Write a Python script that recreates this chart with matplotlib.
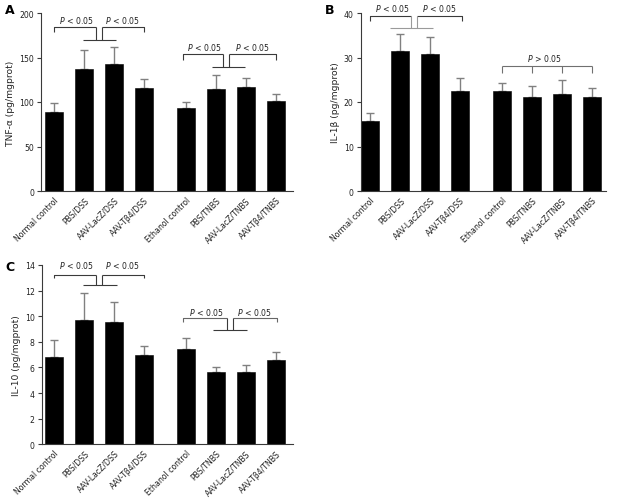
import matplotlib
matplotlib.use("Agg")
import matplotlib.pyplot as plt
import numpy as np

groups = ["Normal control", "PBS/DSS", "AAV-LacZ/DSS", "AAV-Tβ4/DSS",
          "Ethanol control", "PBS/TNBS", "AAV-LacZ/TNBS", "AAV-Tβ4/TNBS"]
positions = [0, 1, 2, 3, 4.4, 5.4, 6.4, 7.4]

tnf_mean = [88.4, 137, 142.3, 116, 92.9, 114.6, 116.9, 101]
tnf_upper = [98.5, 158.8, 161.4, 125.5, 100.4, 130, 126.6, 109.3]
il1b_mean = [15.8, 31.5, 30.7, 22.5, 22.5, 21.2, 21.8, 21.2]
il1b_upper = [17.6, 35.2, 34.5, 25.5, 24.2, 23.6, 24.9, 23.2]
il10_mean = [6.84, 9.73, 9.58, 7.0, 7.44, 5.62, 5.62, 6.61]
il10_upper = [8.12, 11.81, 11.14, 7.68, 8.33, 6.01, 6.22, 7.23]

plt.rcParams['font.family'] = ['DejaVu Sans']
FS = 5.6
DARK = "#3a3a3a"
GRAY = "#9a9a9a"
ERR = "#808080"

fig = plt.figure(figsize=(6.2, 5.02), dpi=100)
fig.patch.set_facecolor("white")

def W(px):
    return px / 620.0

def H(px):
    return px / 502.0

axA = fig.add_axes([W(41), 1 - H(192), W(293 - 41), H(192 - 14)])
axB = fig.add_axes([W(360.5), 1 - H(192), W(606 - 360.5), H(192 - 14)])
axC = fig.add_axes([W(41.7), 1 - H(445.3), W(293 - 41.7), H(445.3 - 266)])


def draw(ax, mean, upper, ymax, yticks, ylabel, xlim):
    pos = np.array(positions)
    err = np.array(upper) - np.array(mean)
    ax.errorbar(pos, mean, yerr=[np.zeros_like(err), err], fmt='none',
                ecolor=ERR, elinewidth=1.0, capsize=3.2, capthick=1.0, zorder=1)
    ax.bar(pos, mean, width=0.6, color="black", edgecolor="black",
           linewidth=0.4, zorder=2)
    ax.set_ylim(0, ymax)
    ax.set_xlim(*xlim)
    ax.set_yticks(yticks)
    ax.set_xticks(pos)
    ax.set_xticklabels(groups, rotation=45, ha='right', rotation_mode='anchor',
                       fontsize=FS, color="#222222")
    ax.tick_params(axis='x', length=0, pad=3)
    ax.tick_params(axis='y', length=3, width=0.8, colors=DARK, labelsize=FS,
                   pad=2, labelcolor="#222222")
    for s in ["top", "right"]:
        ax.spines[s].set_visible(False)
    for s in ["left", "bottom"]:
        ax.spines[s].set_color(DARK)
        ax.spines[s].set_linewidth(0.8)
    ax.set_ylabel(ylabel, fontsize=6.6, color="#222222", labelpad=3)


def pair_bracket(ax, xl, xr, mid_l, mid_r, ytop, ytick, ylow, lowl, lowr,
                 ytext, col_top=DARK, col_low=DARK, text="$P$ < 0.05"):
    kw = dict(lw=0.8, clip_on=False, solid_capstyle='butt')
    ax.plot([xl, xl, mid_l], [ytick, ytop, ytop], color=col_top, **kw)
    ax.plot([mid_l, mid_l], [ytop, ylow], color=col_low, **kw)
    ax.plot([mid_r, xr, xr], [ytop, ytop, ytick], color=col_top, **kw)
    ax.plot([mid_r, mid_r], [ytop, ylow], color=col_low, **kw)
    ax.plot([lowl, lowr], [ylow, ylow], color=col_low, **kw)
    ax.text((xl + mid_l) / 2 + 0.05, ytext, text, ha='center', va='center',
            fontsize=FS, color="#222222")
    ax.text((mid_r + xr) / 2, ytext, text, ha='center', va='center',
            fontsize=FS, color="#222222")


draw(axA, tnf_mean, tnf_upper, 200, [0, 50, 100, 150, 200],
     "TNF-α (pg/mgprot)", (-0.43, 7.97))
draw(axB, il1b_mean, il1b_upper, 40, [0, 10, 20, 30, 40],
     "IL-1β (pg/mgprot)", (-0.33, 7.87))
draw(axC, il10_mean, il10_upper, 14, list(range(0, 15, 2)),
     "IL-10 (pg/mgprot)", (-0.41, 7.97))

# Panel A brackets
pair_bracket(axA, 0, 3, 1.39, 1.59, 184, 178.5, 170, 0.97, 2.07, 193)
pair_bracket(axA, 4.3, 7.4, 5.63, 5.83, 154, 147.5, 139, 5.27, 6.37, 162)

# Panel B brackets
pair_bracket(axB, 0, 3.05, 1.37, 1.57, 39.3, 38.2, 36.6, 0.67, 2.1, 41.3,
             col_top=DARK, col_low=GRAY)
kw = dict(lw=0.8, clip_on=False, solid_capstyle='butt')
axB.plot([positions[4], positions[7]], [28.2, 28.2], color="#707070", **kw)
for p in positions[4:]:
    axB.plot([p, p], [28.2, 26.5], color="#707070", **kw)
axB.text((positions[5] + positions[6]) / 2 - 0.1, 29.9, "$P$ > 0.05",
         ha='center', va='center', fontsize=FS, color="#222222")

# Panel C brackets
pair_bracket(axC, 0, 3, 1.39, 1.59, 13.2, 12.95, 12.44, 0.97, 2.1, 14.0)
pair_bracket(axC, 4.3, 7.42, 5.76, 5.96, 9.88, 9.55, 8.92, 5.3, 6.43, 10.38,
             col_top="#666666", col_low=DARK)

# panel letters
fig.text(W(5), 1 - H(11), "A", fontsize=9, fontweight='bold', va='center')
fig.text(W(325), 1 - H(11), "B", fontsize=9, fontweight='bold', va='center')
fig.text(W(5), 1 - H(268), "C", fontsize=9, fontweight='bold', va='center')

fig.savefig("out.png", dpi=100, facecolor="white")
